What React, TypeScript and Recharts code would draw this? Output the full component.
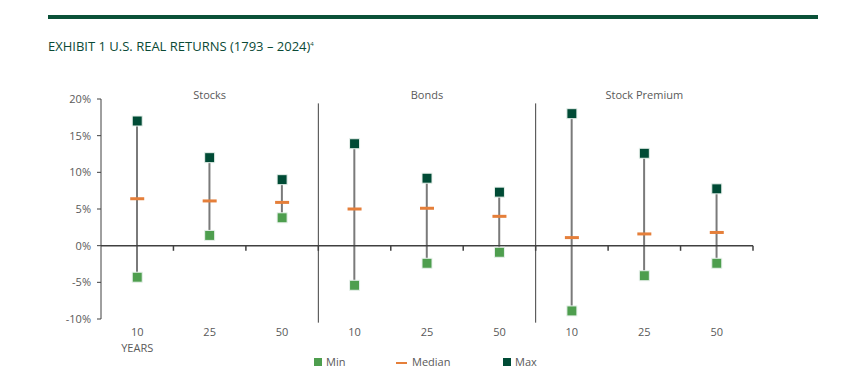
import React from "react";
import { ComposedChart, Bar, Scatter, XAxis, YAxis, ReferenceLine } from "recharts";

const GROUPS = ["Stocks", "Bonds", "Stock Premium"];
const HORIZONS = ["10", "25", "50"];
const MIN_VALUES = [-4.3, 1.4, 3.8, -5.4, -2.4, -0.9, -8.9, -4.1, -2.4];
const MEDIAN_VALUES = [6.4, 6.1, 5.9, 5.0, 5.1, 4.0, 1.1, 1.6, 1.8];
const MAX_VALUES = [17.0, 12.0, 9.0, 13.9, 9.2, 7.3, 18.0, 12.6, 7.75];
const Y_TICKS = [-10, -5, 0, 5, 10, 15, 20];

const DARK = "#004b35";
const LIGHT = "#4e9e4e";
const ORANGE = "#e57f3a";
const WHISKER = "#7a7a7a";
const AXIS = "#404040";
const FONT = "'Open Sans', Lato, sans-serif";
const TEXT = "#595959";

const rows = MAX_VALUES.map((max, i) => ({
  pos: i + 0.5,
  label: HORIZONS[i % HORIZONS.length],
  min: MIN_VALUES[i],
  median: MEDIAN_VALUES[i],
  max,
  range: [MIN_VALUES[i], max],
}));

const slotCount = rows.length;
const groupSize = HORIZONS.length;
const groupCenters = GROUPS.map((_, g) => g * groupSize + groupSize / 2);
const dividers = GROUPS.slice(1).map((_, g) => (g + 1) * groupSize);
const bounds = rows.map((_, i) => i + 1);

const Square = (color: string) => (props: any) => {
  const { cx, cy } = props;
  if (cx == null || cy == null) return null;
  return <rect x={cx - 5} y={cy - 5} width={10} height={10} fill={color} stroke="#e8f1ec" strokeWidth={1} />;
};

const Dash = (props: any) => {
  const { cx, cy } = props;
  if (cx == null || cy == null) return null;
  return <rect x={cx - 7} y={cy - 1.5} width={14} height={3} fill={ORANGE} />;
};

const HorizonTick = (props: any) => {
  const { x, y, payload, index } = props;
  return (
    <g>
      <text x={x} y={y + 9} textAnchor="middle" fontSize={11} fill={TEXT} fontFamily={FONT}>
        {rows[index] ? rows[index].label : payload.value}
      </text>
      {index === 0 && (
        <text x={x} y={y + 25} textAnchor="middle" fontSize={11} fill={TEXT} fontFamily={FONT}>
          YEARS
        </text>
      )}
    </g>
  );
};

const GroupTick = (props: any) => {
  const { x, y, index } = props;
  return (
    <text x={x} y={y} textAnchor="middle" fontSize={11} fill={TEXT} fontFamily={FONT}>
      {GROUPS[index]}
    </text>
  );
};

export default function App() {
  return (
    <div style={{ position: "absolute", left: 0, top: 0, width: 865, height: 381, background: "#fff", fontFamily: FONT }}>
      <div style={{ position: "absolute", left: 48, top: 15, width: 770, height: 4, background: "#0a5138" }} />
      <div style={{ position: "absolute", left: 48, top: 37, fontSize: 13, color: "#0b4a36", whiteSpace: "nowrap" }}>
        EXHIBIT 1 U.S. REAL RETURNS (1793 – 2024)<sup style={{ fontSize: 6 }}>4</sup>
      </div>
      <div style={{ position: "absolute", left: 0, top: 0 }}>
        <ComposedChart width={865} height={381} data={rows} margin={{ top: 79, right: 112, bottom: 42, left: 51 }}>
          <XAxis
            dataKey="pos"
            type="number"
            domain={[0, slotCount]}
            ticks={rows.map((r) => r.pos)}
            axisLine={false}
            tickLine={false}
            height={20}
            tick={<HorizonTick />}
            interval={0}
          />
          <XAxis
            xAxisId="groups"
            orientation="top"
            type="number"
            dataKey="pos"
            domain={[0, slotCount]}
            ticks={groupCenters}
            axisLine={false}
            tickLine={false}
            tickSize={0}
            tickMargin={0}
            height={20}
            tick={<GroupTick />}
            interval={0}
          />
          <YAxis
            domain={[-10, 20]}
            ticks={Y_TICKS}
            tickFormatter={(v: number) => `${v}%`}
            width={50}
            tickSize={4}
            tickMargin={6}
            axisLine={{ stroke: AXIS }}
            tickLine={{ stroke: AXIS }}
            tick={{ fontSize: 11, fill: TEXT, fontFamily: FONT }}
            interval={0}
          />
          <ReferenceLine y={0} stroke={AXIS} strokeWidth={1.5} />
          {bounds.map((b) => (
            <ReferenceLine
              key={`t${b}`}
              segment={[{ x: b, y: 0 }, { x: b, y: -0.7 }]}
              stroke={AXIS}
              strokeWidth={1.5}
            />
          ))}
          {dividers.map((d) => (
            <ReferenceLine
              key={`d${d}`}
              segment={[{ x: d, y: -10.5 }, { x: d, y: 19.4 }]}
              stroke={AXIS}
              strokeWidth={1}
              ifOverflow="visible"
            />
          ))}
          <Bar dataKey="range" barSize={2} fill={WHISKER} isAnimationActive={false} />
          <Scatter dataKey="median" shape={Dash} isAnimationActive={false} />
          <Scatter dataKey="min" shape={Square(LIGHT)} isAnimationActive={false} />
          <Scatter dataKey="max" shape={Square(DARK)} isAnimationActive={false} />
        </ComposedChart>
      </div>
      <div style={{ position: "absolute", left: 0, top: 354, width: 865, height: 18, fontSize: 11, color: TEXT }}>
        <div style={{ position: "absolute", left: 314, top: 4, width: 8, height: 8, background: LIGHT }} />
        <span style={{ position: "absolute", left: 326, top: 0 }}>Min</span>
        <div style={{ position: "absolute", left: 396, top: 8, width: 11, height: 1.5, background: ORANGE }} />
        <span style={{ position: "absolute", left: 412, top: 0 }}>Median</span>
        <div style={{ position: "absolute", left: 503, top: 4, width: 8, height: 8, background: DARK }} />
        <span style={{ position: "absolute", left: 515, top: 0 }}>Max</span>
      </div>
    </div>
  );
}
